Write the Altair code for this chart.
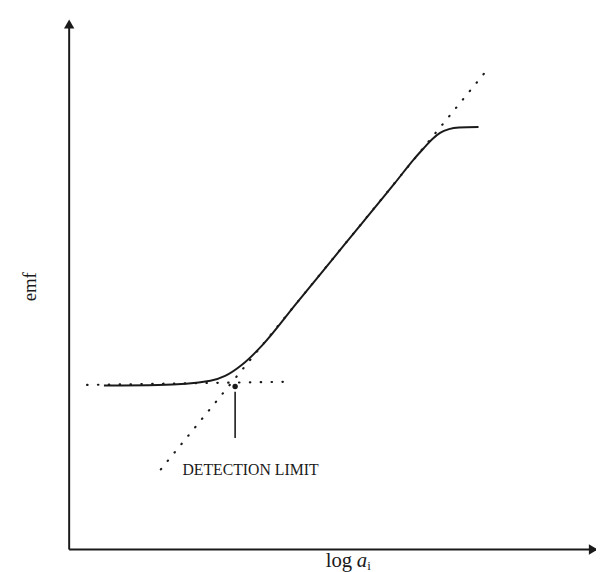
import altair as alt
import pandas as pd

# Response curve (log a_i vs emf), schematic units 0..10
curve_x = [0.66, 1.69, 2.68, 2.96, 3.28, 3.65, 4.31, 5.24, 6.18, 6.55, 6.74, 6.89, 7.04, 7.21, 7.40, 7.77]
curve_y = [3.09, 3.10, 3.18, 3.27, 3.48, 3.83, 4.63, 5.76, 6.90, 7.36, 7.57, 7.73, 7.85, 7.92, 7.95, 7.96]

# Extrapolated dotted lines
diag_x = [1.74, 7.92]
diag_y = [1.51, 9.02]
base_x = [0.34, 4.12]
base_y = [3.10, 3.16]

# Detection limit point and arrow
dl_x = [3.15]
dl_y = [3.07]
arrow_y = [2.10, 2.97]

label_dl = "DETECTION LIMIT"
label_y = "emf"

X = alt.Scale(domain=[0, 10], nice=False, zero=False)
Y = alt.Scale(domain=[0, 10], nice=False, zero=False)
ink = "#1a1a1a"
serif = "Liberation Serif"


def xe(f="x"):
    return alt.X(f"{f}:Q", scale=X, axis=None)


def ye(f="y"):
    return alt.Y(f"{f}:Q", scale=Y, axis=None)


df_curve = pd.DataFrame({"x": curve_x, "y": curve_y})
df_diag = pd.DataFrame({"x": diag_x, "y": diag_y})
df_base = pd.DataFrame({"x": base_x, "y": base_y})

yaxis = alt.Chart(pd.DataFrame({"x": [0], "y": [0], "y2": [9.9]})).mark_rule(
    color=ink, strokeWidth=2).encode(x=xe(), y=ye(), y2="y2:Q")
xaxis = alt.Chart(pd.DataFrame({"x": [0], "x2": [10], "y": [0.0]})).mark_rule(
    color=ink, strokeWidth=2).encode(x=xe(), x2="x2:Q", y=ye())
yhead = alt.Chart(pd.DataFrame({"x": [0], "y": [9.9]})).mark_point(
    shape="triangle-up", filled=True, size=110, color=ink, opacity=1).encode(x=xe(), y=ye())
xhead = alt.Chart(pd.DataFrame({"x": [9.95], "y": [0.0]})).mark_point(
    shape="triangle-right", filled=True, size=110, color=ink, opacity=1).encode(x=xe(), y=ye())

curve = alt.Chart(df_curve).mark_line(
    color=ink, strokeWidth=2, interpolate="monotone").encode(x=xe(), y=ye())
diag = alt.Chart(df_diag).mark_line(
    color=ink, strokeWidth=2.2, strokeDash=[0.5, 10.5], strokeCap="round").encode(x=xe(), y=ye())
base = alt.Chart(df_base).mark_line(
    color=ink, strokeWidth=2.2, strokeDash=[0.5, 10.5], strokeCap="round").encode(x=xe(), y=ye())

dl_pt = alt.Chart(pd.DataFrame({"x": dl_x, "y": dl_y})).mark_point(
    shape="circle", filled=True, size=30, color=ink, opacity=1).encode(x=xe(), y=ye())
arrow = alt.Chart(pd.DataFrame({"x": dl_x * 2, "y": arrow_y})).mark_line(
    color=ink, strokeWidth=1.6).encode(x=xe(), y=ye())

dl_text = alt.Chart(pd.DataFrame({"x": [2.15], "y": [1.41], "t": [label_dl]})).mark_text(
    align="left", baseline="alphabetic", font=serif, fontSize=16, color=ink).encode(
    x=xe(), y=ye(), text="t:N")
emf_text = alt.Chart(pd.DataFrame({"x": [-0.75], "y": [4.95], "t": [label_y]})).mark_text(
    align="center", baseline="middle", angle=270, font=serif, fontSize=19, color=ink).encode(
    x=xe(), y=ye(), text="t:N")
log_text = alt.Chart(pd.DataFrame({"x": [4.87], "y": [-0.33], "t": ["log"]})).mark_text(
    align="left", baseline="alphabetic", font=serif, fontSize=21, color=ink).encode(
    x=xe(), y=ye(), text="t:N")
a_text = alt.Chart(pd.DataFrame({"x": [5.46], "y": [-0.33], "t": ["a"]})).mark_text(
    align="left", baseline="alphabetic", font=serif, fontSize=21, fontStyle="italic", color=ink).encode(
    x=xe(), y=ye(), text="t:N")
i_text = alt.Chart(pd.DataFrame({"x": [5.66], "y": [-0.39], "t": ["i"]})).mark_text(
    align="left", baseline="alphabetic", font=serif, fontSize=13, color=ink).encode(
    x=xe(), y=ye(), text="t:N")

chart = alt.layer(
    yaxis, xaxis, yhead, xhead, diag, base, curve, arrow, dl_pt,
    dl_text, emf_text, log_text, a_text, i_text
).properties(
    width=534, height=538,
    padding={"left": 62, "top": 7, "right": 0, "bottom": 19},
    autosize=alt.AutoSizeParams(type="none"),
).configure(background="white", view=alt.ViewConfig(stroke=None))

chart.save("out.html", embed_options={"renderer": "svg", "actions": False})
